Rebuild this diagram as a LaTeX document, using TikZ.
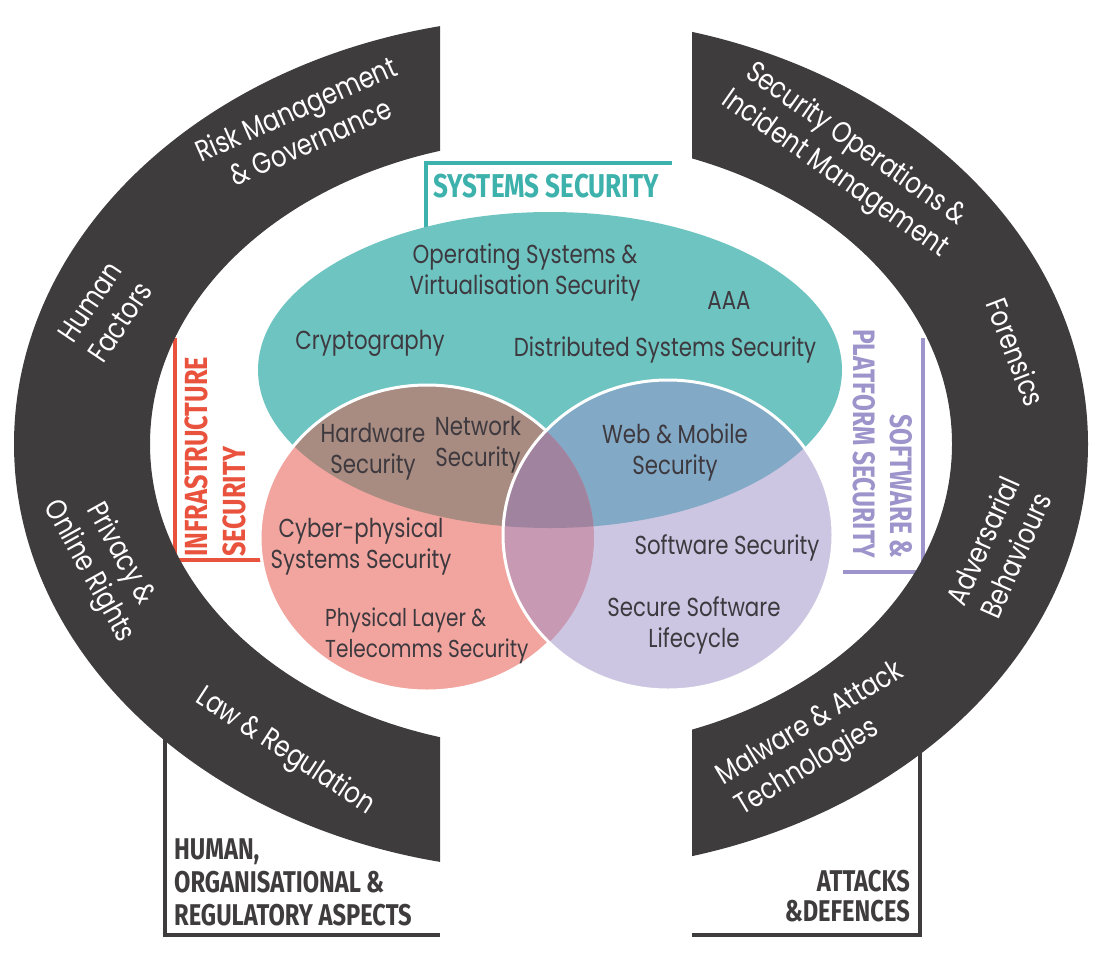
\documentclass[tikz,border=0pt]{standalone}
\usepackage{fontspec}
\newfontfamily\ringfont{Poppins}[FakeStretch=0.82]
\newfontfamily\headfont{Fira Sans}[FakeStretch=0.79]

\definecolor{bandgrey}{HTML}{3E3C3D}
\definecolor{vtext}{HTML}{3D393F}
\definecolor{systeal}{HTML}{6EC4C1}
\definecolor{systealdark}{HTML}{3DB1AB}
\definecolor{infrapink}{HTML}{F2A59E}
\definecolor{infrared}{HTML}{E9533D}
\definecolor{softlilac}{HTML}{CDC6E2}
\definecolor{softviolet}{HTML}{9C94CA}
\definecolor{hwbrown}{HTML}{A88C81}
\definecolor{webblue}{HTML}{82A9C5}
\definecolor{lensmauve}{HTML}{C899B3}
\definecolor{lensdark}{HTML}{A0849F}

% areas of the three sets and of the outer ring
\newcommand{\sysarea}{(550,370) ellipse [x radius=292, y radius=158]}
\newcommand{\infraarea}{(427,538) ellipse [x radius=167, y radius=153]}
\newcommand{\softarea}{(668,535) ellipse [x radius=165, y radius=155]}
\newcommand{\ringarea}{(551,444) ellipse [x radius=537, y radius=427]
    (551,444) ellipse [x radius=401, y radius=305]}

\begin{document}
\begin{tikzpicture}[
    x=1pt, y=-1pt,
    venntext/.style={
        text=vtext, align=center, inner sep=0pt,
        font=\ringfont\fontsize{26}{31}\selectfont
    },
    ringtext/.style={
        text=white, align=center, inner sep=0pt,
        font=\ringfont\fontsize{29.5}{36}\selectfont
    },
    headtext/.style={
        inner sep=0pt, font=\headfont\bfseries\fontsize{33}{38}\selectfont
    },
    bracket/.style={draw=#1, line width=4.5pt, line cap=butt, line join=miter}
]
\useasboundingbox (0,0) rectangle (1105,975);

% Bracket lines (drawn first, the shapes cover their inner ends)
\coordinate (hoa_top) at (165,700);
\coordinate (hoa_corner) at (165,935);
\coordinate (hoa_end) at (440,935);
\coordinate (ad_top) at (920,700);
\coordinate (ad_corner) at (920,935);
\coordinate (ad_end) at (692,935);
\coordinate (ss_foot) at (426,232);
\coordinate (ss_corner) at (426,163);
\coordinate (ss_end) at (672,163);
\coordinate (is_top) at (175,338);
\coordinate (is_corner) at (175,560);
\coordinate (is_end) at (272,560);
\coordinate (sp_top) at (923,338);
\coordinate (sp_corner) at (923,572);
\coordinate (sp_end) at (843,572);

\draw[bracket=bandgrey] (hoa_top) -- (hoa_corner) -- (hoa_end);
\draw[bracket=bandgrey] (ad_top) -- (ad_corner) -- (ad_end);
\draw[bracket=systealdark, line width=4pt] (ss_foot) -- (ss_corner) -- (ss_end);
\draw[bracket=infrared, line width=4pt] (is_top) -- (is_corner) -- (is_end);
\draw[bracket=softviolet, line width=4pt] (sp_top) -- (sp_corner) -- (sp_end);

% Outer ring, cut into two halves
\begin{scope}
    \clip (0,0) rectangle (440,975);
    \fill[bandgrey, even odd rule] \ringarea;
\end{scope}
\begin{scope}
    \clip (692,0) rectangle (1105,975);
    \fill[bandgrey, even odd rule] \ringarea;
\end{scope}

% Venn sets
\fill[systeal] \sysarea;
\fill[infrapink] \infraarea;
\begin{scope}
    \clip \sysarea;
    \fill[hwbrown] \infraarea;
\end{scope}
\draw[white, line width=3pt] \infraarea;
\fill[softlilac] \softarea;
\begin{scope}
    \clip \softarea;
    \fill[webblue] \sysarea;
    \fill[lensmauve] \infraarea;
    \clip \infraarea;
    \fill[lensdark] \sysarea;
\end{scope}
\draw[white, line width=3pt] \softarea;

% Titles of the groups
\node[headtext, text=systealdark, anchor=base west] (sys_title) at (433,197)
    {SYSTEMS SECURITY};
\node[headtext, text=infrared, rotate=90, anchor=north west, align=left,
    font=\headfont\bfseries\fontsize{32}{38}\selectfont]
    (infra_title) at (185,557) {INFRASTRUCTURE\\SECURITY};
\node[headtext, text=softviolet, rotate=-90, anchor=north east, align=right,
    font=\headfont\bfseries\fontsize{31}{37}\selectfont]
    (soft_title) at (913,558) {SOFTWARE\,\&\\PLATFORM SECURITY};
\node[headtext, text=bandgrey, anchor=north west, align=left,
    font=\headfont\bfseries\fontsize{30}{33}\selectfont]
    (hoa_title) at (174,838) {HUMAN,\\ORGANISATIONAL\,\&\\REGULATORY ASPECTS};
\node[headtext, text=bandgrey, anchor=north east, align=right,
    font=\headfont\bfseries\fontsize{30}{30}\selectfont]
    (ad_title) at (910,870) {ATTACKS\\\&DEFENCES};

% Topics inside the sets
\node[venntext] (os_virt) at (525,272) {Operating Systems \&\\Virtualisation Security};
\node[venntext] (aaa) at (729,300) {AAA};
\node[venntext] (crypto) at (370,343) {Cryptography};
\node[venntext] (dist_sys) at (665,350) {Distributed Systems Security};
\node[venntext] (hw_sec) at (373,452) {Hardware\\Security};
\node[venntext] (net_sec) at (478,445) {Network\\Security};
\node[venntext] (web_mob) at (675,452) {Web \& Mobile\\Security};
\node[venntext] (cps_sec) at (361,546) {Cyber-physical\\Systems Security};
\node[venntext, align=left, anchor=west, font=\ringfont\fontsize{24.5}{31}\selectfont]
    (phys_sec) at (325,636) {Physical Layer \&\\Telecomms Security};
\node[venntext] (sw_sec) at (727,548) {Software Security};
\node[venntext] (sw_life) at (694,625) {Secure Software\\Lifecycle};

% Topics on the ring
\node[ringtext, rotate=24] (risk) at (303,125) {Risk Management\\\& Governance};
\node[ringtext, rotate=56] (human) at (105,312) {Human\\Factors};
\node[ringtext, rotate=-61] (privacy) at (104,563) {Privacy \&\\Online Rights};
\node[ringtext, rotate=-33] (law) at (285,752) {Law \& Regulation};
\node[ringtext, rotate=-35] (secops) at (845,160)
    {Security Operations \&\\Incident Management};
\node[ringtext, rotate=-69] (forensics) at (1016,352) {Forensics};
\node[ringtext, rotate=66] (adversarial) at (999,548) {Adversarial\\Behaviours};
\node[ringtext, rotate=31, align=left] (malware) at (820,740)
    {Malware \& Attack\\Technologies};

\end{tikzpicture}
\end{document}
